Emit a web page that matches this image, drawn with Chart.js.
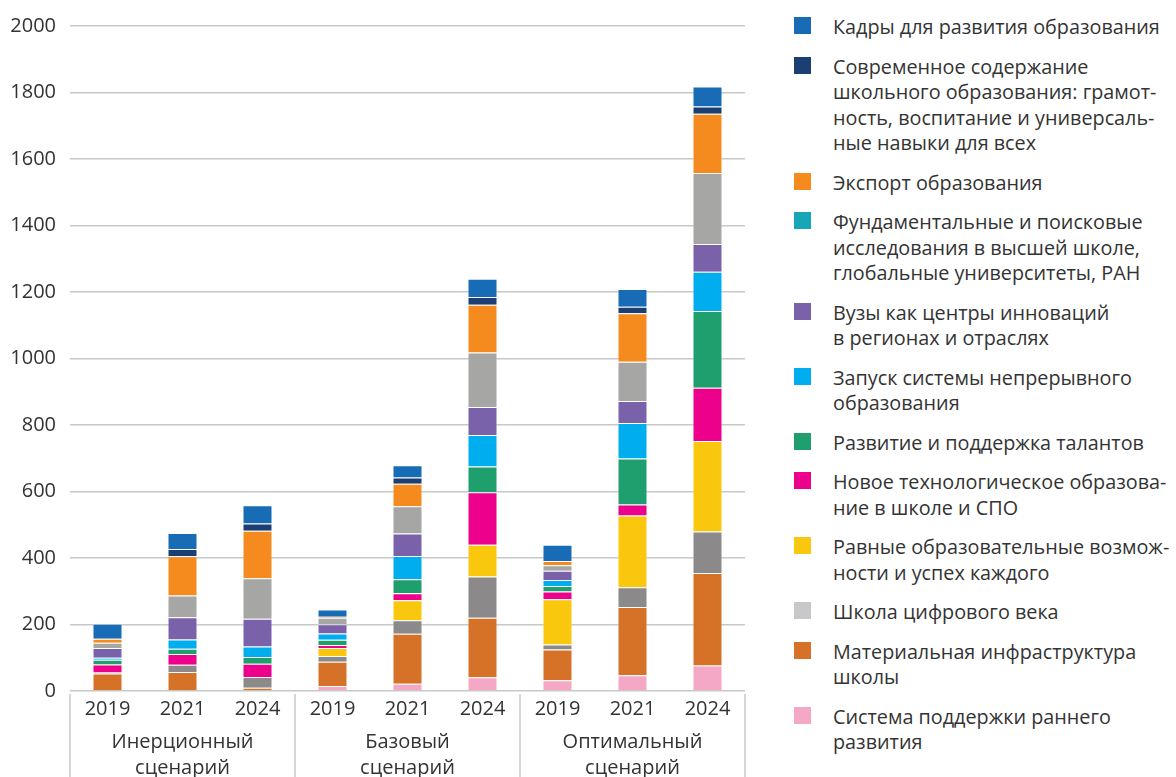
<!DOCTYPE html>
<html>
<head>
<meta charset="utf-8">
<script src="https://cdn.jsdelivr.net/npm/chart.js@4.4.1/dist/chart.umd.min.js"></script>
<style>
  body { margin: 0; overflow: hidden; background: #fff; font-family: "Open Sans", sans-serif; }
  #wrap { position: relative; width: 1176px; height: 777px; overflow: hidden; }
  #box { position: absolute; left: 0; top: 0; width: 760px; height: 781px; }
  #legend { position: absolute; left: 794px; top: 14px; width: 382px; color: #333; font-size: 19.8px; line-height: 25.5px; white-space: nowrap; }
  .item { display: flex; margin-bottom: 14px; }
  .sw { width: 17px; height: 17px; flex: none; margin-top: 3px; margin-right: 22px; }
</style>
</head>
<body>
<div id="wrap">
  <div id="box"><canvas id="chart"></canvas></div>
  <div id="legend"></div>
</div>
<script>
// categories
const years = ['2019', '2021', '2024', '2019', '2021', '2024', '2019', '2021', '2024'];
const scenarios = [['Инерционный', 'сценарий'], ['Базовый', 'сценарий'], ['Оптимальный', 'сценарий']];

// series, bottom of the stack first
const rannee = [0, 0, 0, 15, 22, 41, 32, 47, 77];
const infra = [53, 57, 10, 73, 150, 179, 93, 206, 278];
const cifrovoy = [3, 22, 32, 17, 41, 124, 15, 59, 125];
const ravnye = [0, 0, 0, 24, 60, 96, 136, 216, 272];
const tehnolog = [24, 32, 40, 9, 21, 158, 23, 33, 160];
const talanty = [14, 16, 20, 16, 42, 77, 17, 138, 231];
const nepreryvnoe = [6, 28, 32, 19, 70, 95, 18, 107, 118];
const vuzy = [29, 67, 83, 28, 68, 84, 28, 66, 83];
const fundament = [16, 65, 122, 19, 82, 164, 16, 118, 214];
const eksport = [12, 118, 143, 3, 67, 144, 13, 146, 178];
const soderzhanie = [0, 22, 22, 0, 19, 23, 0, 20, 22];
const kadry = [45, 48, 55, 22, 37, 55, 49, 53, 60];

// legend text, lines as in the picture
const names = [
  ['Система поддержки раннего', 'развития'],
  ['Материальная инфраструктура', 'школы'],
  ['Школа цифрового века'],
  ['Равные образовательные возмож-', 'ности и успех каждого'],
  ['Новое технологическое образова-', 'ние в школе и СПО'],
  ['Развитие и поддержка талантов'],
  ['Запуск системы непрерывного', 'образования'],
  ['Вузы как центры инноваций', 'в регионах и отраслях'],
  ['Фундаментальные и поисковые', 'исследования в высшей школе,', 'глобальные университеты, РАН'],
  ['Экспорт образования'],
  ['Современное содержание', 'школьного образования: грамот-', 'ность, воспитание и универсаль-', 'ные навыки для всех'],
  ['Кадры для развития образования']
];
const series = [rannee, infra, cifrovoy, ravnye, tehnolog, talanty, nepreryvnoe, vuzy, fundament, eksport, soderzhanie, kadry];
const barColors = ['#f4a8c6', '#d67228', '#8b8989', '#f9c80e', '#ec008c', '#1f9e6e', '#00aeef', '#7a62aa', '#a6a6a5', '#f58b1f', '#1c3f73', '#176cb5'];
const legendColors = ['#f4a8c6', '#d67228', '#c8c8ca', '#f9c80e', '#ec008c', '#1f9e6e', '#00aeef', '#7a62aa', '#17a6b8', '#f58b1f', '#1c3f73', '#176cb5'];

const datasets = series.map(function (d, i) {
  return {
    label: names[i].join(' ').replace(/- /g, ''),
    data: d,
    backgroundColor: barColors[i],
    borderColor: 'rgba(255,255,255,0.35)',
    borderWidth: 1,
    barPercentage: 0.8,
    categoryPercentage: 0.5
  };
});

// separators between scenario groups under the axis
const groupLines = {
  id: 'groupLines',
  afterDraw: function (chart) {
    const x = chart.scales.x;
    const ctx = chart.ctx;
    const step = x.getPixelForValue(1) - x.getPixelForValue(0);
    ctx.save();
    ctx.strokeStyle = '#c8c8c8';
    ctx.lineWidth = 1.5;
    for (let i = 0; i <= years.length; i += 3) {
      const px = Math.round(x.getPixelForValue(i) - step / 2);
      ctx.beginPath();
      ctx.moveTo(px, chart.chartArea.bottom + 3);
      ctx.lineTo(px, chart.height);
      ctx.stroke();
    }
    ctx.restore();
  }
};

const font = { family: '"Open Sans", sans-serif', size: 20 };

new Chart(document.getElementById('chart'), {
  type: 'bar',
  data: { labels: years, datasets: datasets },
  plugins: [groupLines],
  options: {
    responsive: true,
    maintainAspectRatio: false,
    animation: false,
    layout: { padding: { top: 24, right: 15, bottom: 0, left: 0 } },
    plugins: { legend: { display: false }, tooltip: { enabled: false } },
    scales: {
      x: {
        stacked: true,
        grid: { display: false, drawTicks: false },
        border: { display: false },
        ticks: { color: '#333', font: font, padding: 6, maxRotation: 0 },
        afterFit: function (s) { s.height = 30; }
      },
      x2: {
        type: 'category',
        position: 'bottom',
        labels: scenarios,
        offset: true,
        grid: { display: false, drawTicks: false },
        border: { display: false },
        ticks: { color: '#333', font: { family: font.family, size: 20, lineHeight: 1.3 }, padding: 8, maxRotation: 0 },
        afterFit: function (s) { s.height = 60; }
      },
      y: {
        stacked: true,
        min: 0,
        max: 2000,
        ticks: {
          stepSize: 200, color: '#333', font: font, padding: 14,
          callback: function (v) { return String(v); }
        },
        grid: { color: '#c8c8c8', lineWidth: 1.5, drawTicks: false },
        border: { display: false },
        afterFit: function (s) { s.width = 70; }
      }
    }
  }
});

// legend, top of the stack first
const legend = document.getElementById('legend');
for (let i = names.length - 1; i >= 0; i--) {
  const item = document.createElement('div');
  item.className = 'item';
  const sw = document.createElement('div');
  sw.className = 'sw';
  sw.style.background = legendColors[i];
  const txt = document.createElement('div');
  txt.innerHTML = names[i].join('<br>');
  item.appendChild(sw);
  item.appendChild(txt);
  legend.appendChild(item);
}
</script>
</body>
</html>
